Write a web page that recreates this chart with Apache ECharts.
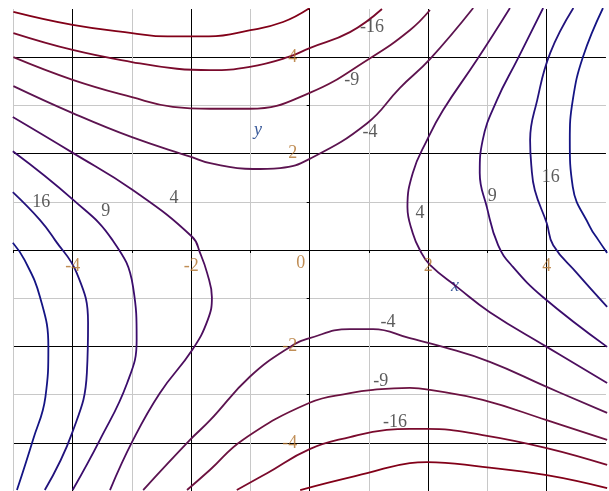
<!DOCTYPE html>
<html><head><meta charset="utf-8">
<script src="https://cdn.jsdelivr.net/npm/echarts@6/dist/echarts.min.js"></script>
<style>html,body{margin:0;padding:0;background:#fff}#c{width:609px;height:491px}</style>
</head><body><div id="c"></div>
<script>
// Contour levels and curve points (x, y in plot units)
const levelValues = [-25, -16, -9, -4, 4, 9, 16, 25];

const top25 = [[-5,4.94],[-4,4.67],[-3,4.5],[-2.4,4.43],[-1.7,4.43],[-1,4.56],[-0.45,4.73],[0,5.02]];
const top16 = [[-5,4.5],[-4,4.15],[-3,3.9],[-2.24,3.76],[-1.68,3.73],[-1.01,3.8],[-0.37,4.0],[0,4.19],[0.68,4.52],[1.22,5.0]];
const top9  = [[-5,4.0],[-4,3.53],[-3,3.17],[-2.31,2.97],[-1.68,2.93],[-1.01,2.93],[0,3.26],[1.02,3.98],[1.69,4.56],[2.03,4.98]];
const top4  = [[-5,3.4],[-4,2.84],[-3,2.34],[-2,1.93],[-1.68,1.8],[-0.96,1.68],[-0.5,1.7],[0,1.89],[0.97,2.63],[1.52,3.36],[2.03,3.96],[2.76,5.02]];

const bot4  = [[-2.81,-4.98],[-2.02,-3.94],[-1.68,-3.53],[-1.01,-2.63],[-0.33,-2.01],[0,-1.83],[0.68,-1.64],[1.07,-1.64],[1.69,-1.83],[2.25,-2.01],[3.04,-2.32],[4,-2.84],[5.02,-3.38]];
const bot9  = [[-2.07,-4.98],[-1.68,-4.56],[-1.13,-3.94],[0,-3.17],[0.68,-2.97],[1.07,-2.9],[1.69,-2.86],[2.03,-2.9],[2.92,-3.11],[4,-3.53],[5.02,-3.94]];
const bot16 = [[-1.23,-4.98],[-0.72,-4.63],[0,-4.13],[0.68,-3.88],[1.3,-3.73],[1.69,-3.71],[1.98,-3.71],[2.92,-3.84],[4,-4.11],[5.02,-4.46]];
const bot25 = [[-0.16,-4.98],[0.3,-4.83],[0.97,-4.63],[1.69,-4.42],[1.98,-4.4],[2.92,-4.5],[4,-4.67],[5.02,-4.94]];

const left4  = [[-5.01,2.76],[-3.99,2.01],[-2.98,1.24],[-1.98,0.27],[-1.85,-0.06],[-1.73,-0.48],[-1.65,-0.98],[-1.72,-1.45],[-1.98,-2.07],[-2.53,-2.97],[-2.98,-3.94],[-3.37,-4.98]];
const left9  = [[-5.01,2.05],[-3.99,1.04],[-3.33,0.21],[-2.98,-0.77],[-2.92,-1.87],[-3.08,-2.76],[-3.54,-3.94],[-4.0,-4.98]];
const left16 = [[-5.01,1.2],[-4.55,0.62],[-4.3,0.21],[-3.93,-0.48],[-3.74,-1.51],[-3.76,-2.55],[-4.01,-3.8],[-4.47,-4.98]];
const left25 = [[-5.01,0.15],[-4.81,-0.21],[-4.55,-0.98],[-4.41,-2.01],[-4.46,-3.05],[-4.67,-3.94],[-4.94,-4.98]];

const right4  = [[3.38,5.02],[2.82,3.94],[2.25,2.9],[1.98,2.28],[1.74,1.6],[1.65,0.89],[1.74,0.35],[1.86,0],[2.03,-0.31],[2.49,-0.77],[3.04,-1.29],[4.0,-2.01],[5.02,-2.76]];
const right9  = [[3.94,5.02],[3.5,3.94],[3.16,3.11],[2.92,2.28],[2.87,1.6],[2.99,0.89],[3.18,0.1],[3.43,-0.35],[3.94,-0.98],[5.02,-2.01]];
const right16 = [[4.45,5.02],[4.06,4.09],[3.84,3.11],[3.72,2.28],[3.74,1.76],[3.8,1.24],[4.0,0.56],[4.11,0.1],[4.51,-0.48],[5.02,-1.18]];
const right25 = [[4.95,5.02],[4.61,4.0],[4.44,3.11],[4.39,2.28],[4.44,1.31],[4.73,0.48],[4.87,0.21],[5.02,-0.06]];

// contour label positions and texts
const labelX = [1.05, 0.71, 1.02, -4.53, -3.44, -2.29, 1.86, 3.08, 4.07, 1.32, 1.2, 1.44];
const labelY = [4.63, 3.53, 2.45, 1.0, 0.81, 1.08, 0.77, 1.12, 1.51, -1.49, -2.72, -3.57];
const labelText = ['-16', '-9', '-4', '16', '9', '4', '4', '9', '16', '-4', '-9', '-16'];

// tick values shown on axes
const xTickLabels = [-4, -2, 0, 2, 4];
const yTickLabels = [-4, -2, 2, 4];

const levelColors = {'-25':'#820018','-16':'#7a0a2c','-9':'#6c1240','-4':'#5c1450','4':'#4c0e5e','9':'#3a0c6c','16':'#22127c','25':'#141484'};

const curves = [
  [top25,-25],[top16,-16],[top9,-9],[top4,-4],
  [bot4,-4],[bot9,-9],[bot16,-16],[bot25,-25],
  [left4,4],[left9,9],[left16,16],[left25,25],
  [right4,4],[right9,9],[right16,16],[right25,25]
];

const tickColor = '#b0722c';
const tickFont = { fontSize: 18, fontFamily: 'Liberation Serif', color: tickColor };

const series = curves.map(([pts, lv]) => ({
  type: 'line', data: pts, smooth: 0.45, symbol: 'none', silent: true,
  lineStyle: { color: levelColors[String(lv)], width: 1.8 }, z: 3
}));
// contour labels
series.push({
  type: 'scatter', symbol: 'circle', symbolSize: 1, silent: true, z: 5,
  itemStyle: { color: 'rgba(0,0,0,0)' },
  data: labelX.map((x, i) => [x, labelY[i], labelText[i]]),
  label: { show: true, position: 'inside', formatter: p => p.value[2],
    color: '#333333', fontSize: 18, fontFamily: 'Liberation Serif' }
});
// x tick labels placed along the zero line
series.push({
  type: 'scatter', symbol: 'circle', symbolSize: 1, silent: true, z: 5,
  itemStyle: { color: 'rgba(0,0,0,0)' },
  data: xTickLabels.map(v => v === 0
    ? { value: [v, 0], label: { offset: [-9, -3] } }
    : { value: [v, 0] }),
  label: Object.assign({ show: true, position: 'bottom', distance: 7,
    formatter: p => String(p.value[0]) }, tickFont)
});
// y tick labels placed along the zero line
series.push({
  type: 'scatter', symbol: 'circle', symbolSize: 1, silent: true, z: 5,
  itemStyle: { color: 'rgba(0,0,0,0)' },
  data: yTickLabels.map(v => [0, v]),
  label: Object.assign({ show: true, position: 'left', distance: 12,
    formatter: p => String(p.value[1]) }, tickFont)
});

const chart = echarts.init(document.getElementById('c'), null, { renderer: 'canvas' });
chart.setOption({
  animation: false,
  backgroundColor: '#fff',
  grid: { left: 13.4, right: 3.05, top: 9, bottom: 0, containLabel: false, outerBoundsMode: 'none' },
  xAxis: {
    type: 'value', min: -5, max: 5, interval: 1,
    axisLine: { show: true, onZero: true, lineStyle: { color: '#000', width: 1 } },
    axisTick: { show: true, length: 3, lineStyle: { color: '#000' } },
    axisLabel: { show: false },
    splitLine: { show: true, showMaxLine: false, lineStyle: { color: ['#c8c8c8', '#000000'], width: 1 } }
  },
  yAxis: {
    type: 'value', min: -5, max: 5, interval: 1,
    axisLine: { show: true, onZero: true, lineStyle: { color: '#000', width: 1 } },
    axisTick: { show: true, length: 3, lineStyle: { color: '#000' } },
    axisLabel: { show: false },
    splitLine: { show: true, showMaxLine: false, lineStyle: { color: ['#c8c8c8', '#000000'], width: 1 } }
  },
  graphic: [
    { type: 'text', left: 451, top: 277, silent: true,
      style: { text: 'x', fontSize: 18, fontStyle: 'italic', fontFamily: 'Liberation Serif', fill: '#3a5a9a' } },
    { type: 'text', left: 254, top: 121, silent: true,
      style: { text: 'y', fontSize: 18, fontStyle: 'italic', fontFamily: 'Liberation Serif', fill: '#3a5a9a' } }
  ],
  series: series
});
</script></body></html>
